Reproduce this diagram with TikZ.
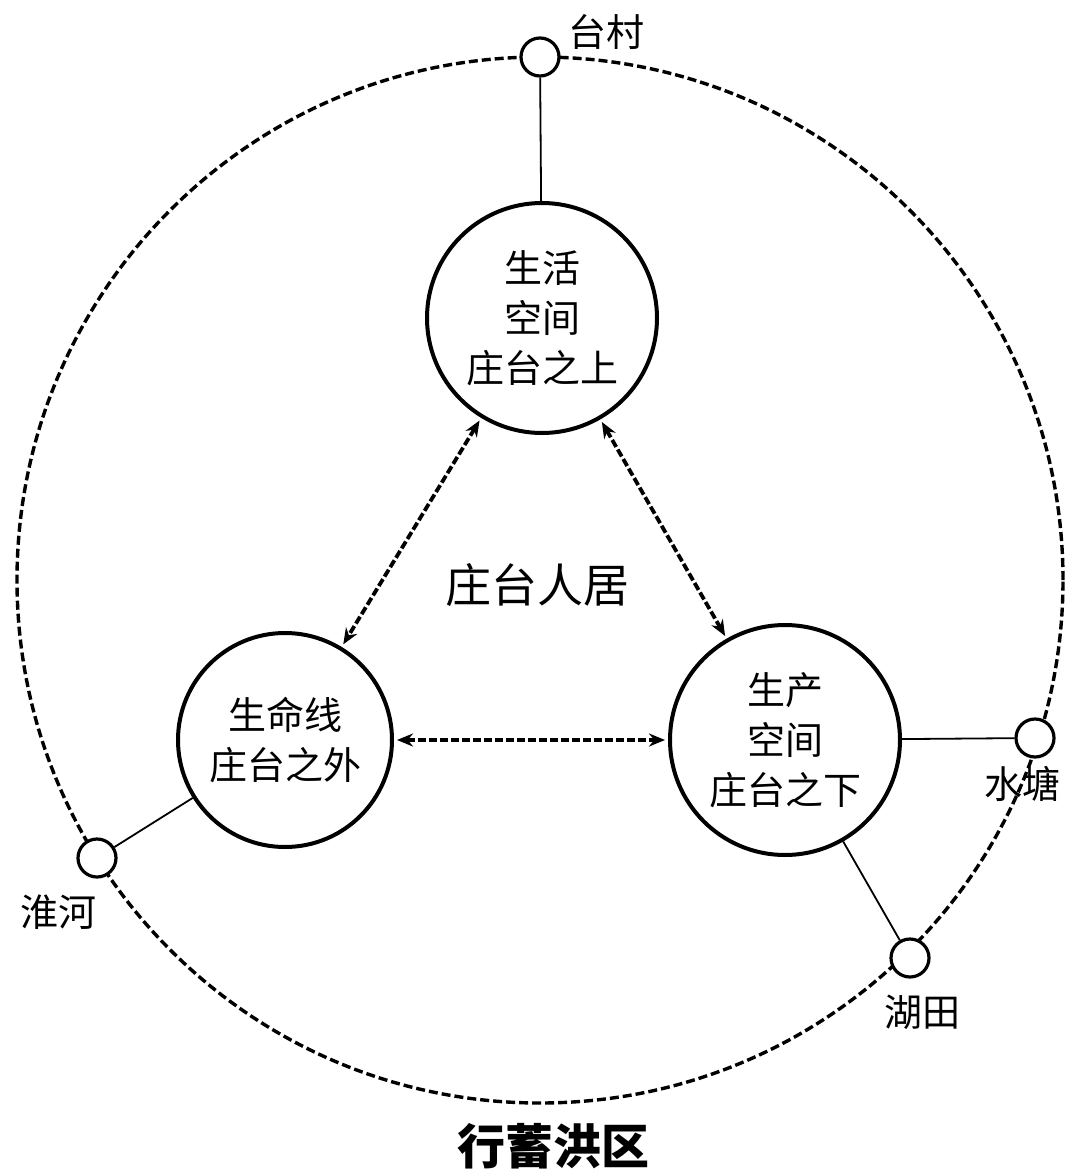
\documentclass[tikz,border=0pt]{standalone}
\usepackage{fontspec}
\setmainfont{Noto Sans CJK SC}
\usetikzlibrary{arrows.meta}
\begin{document}
\begin{tikzpicture}[x=1pt,y=-1pt,
  big/.style={circle,draw,line width=4pt,minimum size=#1,inner sep=0pt,align=center,font=\fontsize{38}{50}\selectfont},
  small/.style={circle,draw,line width=3.2pt,minimum size=38pt,inner sep=0pt},
  lab/.style={font=\fontsize{38}{40}\selectfont},
  link/.style={line width=1.8pt},
  rel/.style={line width=3.8pt,dash pattern=on 8pt off 3pt,{Stealth[length=16pt,width=13pt]}-{Stealth[length=16pt,width=13pt]},shorten <=3pt,shorten >=3pt}]
\useasboundingbox (0,0) rectangle (1080,1173);
\node[circle,draw,dash pattern=on 9pt off 4pt,line width=3.4pt,minimum size=1046pt,inner sep=0pt] (outer) at (540,580) {};
\node[big=230pt] (top) at (542,318) {生活\\空间\\庄台之上};
\node[big=214pt] (left) at (285,740) {生命线\\庄台之外};
\node[big=230pt] (right) at (785,740) {生产\\空间\\庄台之下};
\node[small,fill=white] (tc) at (540,57) {};
\node[small,fill=white] (hh) at (97,858) {};
\node[small,fill=white] (st) at (1035,738) {};
\node[small,fill=white] (ht) at (910,958) {};
\node[lab] (ltc) at (606,32) {台村};
\node[lab] (lhh) at (58,912) {淮河};
\node[lab] (lst) at (1022,784) {水塘};
\node[lab] (lht) at (922,1012) {湖田};
\node[font=\fontsize{46}{50}\selectfont] (mid) at (537,585) {庄台人居};
\node[font=\fontsize{48}{52}\selectfont\bfseries] (title) at (553,1146) {行蓄洪区};
\draw[link] (tc) -- (top);
\draw[link] (hh) -- (left);
\draw[link] (st) -- (right);
\draw[link] (ht) -- (right);
\draw[rel] (top) -- (left);
\draw[rel] (top) -- (right);
\draw[rel] (left) -- (right);
\end{tikzpicture}
\end{document}
